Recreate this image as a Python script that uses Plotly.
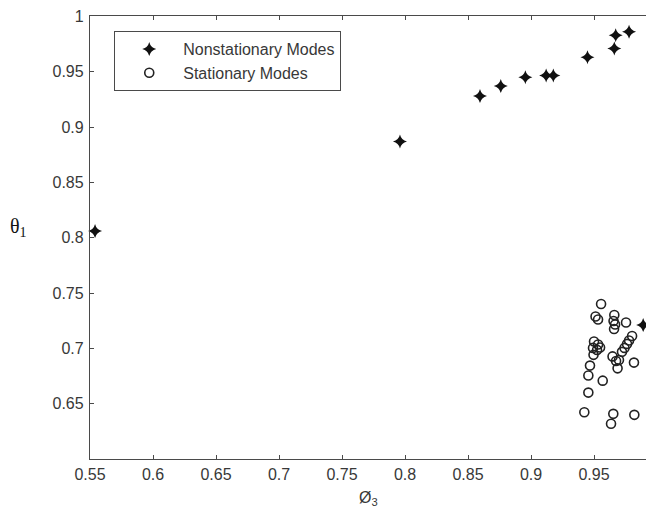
import plotly.graph_objects as go

# Nonstationary modes (star markers)
nonstat_x = [0.554, 0.796, 0.8595, 0.876, 0.8955, 0.912, 0.9177, 0.9448, 0.9661, 0.9672, 0.9778, 0.989]
nonstat_y = [0.806, 0.887, 0.928, 0.937, 0.945, 0.9465, 0.9465, 0.963, 0.971, 0.983, 0.986, 0.721]

# Stationary modes (open circles)
stat_x = [0.9556, 0.9512, 0.9532, 0.9661, 0.9655, 0.9667, 0.9659, 0.9754, 0.9802, 0.9778, 0.9762,
          0.9742, 0.9722, 0.95, 0.9532, 0.9492, 0.9524, 0.9548, 0.9496, 0.9647, 0.9675, 0.9698,
          0.9687, 0.9817, 0.9468, 0.9455, 0.9569, 0.9455, 0.9423, 0.9653, 0.9635, 0.982]
stat_y = [0.740, 0.7288, 0.7261, 0.7301, 0.7247, 0.7216, 0.7175, 0.7234, 0.7112, 0.7071, 0.704,
          0.7004, 0.6968, 0.7062, 0.7035, 0.7004, 0.6986, 0.7008, 0.6941, 0.6927, 0.6886, 0.6895,
          0.6819, 0.6871, 0.6844, 0.6754, 0.6708, 0.66, 0.6423, 0.6408, 0.6318, 0.6399]

x_ticks = [0.55, 0.6, 0.65, 0.7, 0.75, 0.8, 0.85, 0.9, 0.95]
x_ticklabels = ["0.55", "0.6", "0.65", "0.7", "0.75", "0.8", "0.85", "0.9", "0.95"]
y_ticks = [0.65, 0.7, 0.75, 0.8, 0.85, 0.9, 0.95, 1.0]
y_ticklabels = ["0.65", "0.7", "0.75", "0.8", "0.85", "0.9", "0.95", "1"]

legend_names = ["Nonstationary Modes", "Stationary Modes"]

AX = "#4a4a4a"
TXT = "#383838"
FONT = "Liberation Sans, Arial, sans-serif"

fig = go.Figure()
fig.add_trace(go.Scatter(
    x=nonstat_x, y=nonstat_y, mode="markers", name=legend_names[0],
    marker=dict(symbol="star-diamond", size=10, color="#111111", line=dict(width=0)),
    cliponaxis=False,
))
fig.add_trace(go.Scatter(
    x=stat_x, y=stat_y, mode="markers", name=legend_names[1],
    marker=dict(symbol="circle-open", size=9, color="#222222", line=dict(width=1.6, color="#222222")),
    cliponaxis=False,
))

fig.update_layout(
    width=646, height=499,
    margin=dict(l=82, r=0, t=8, b=48),
    paper_bgcolor="white", plot_bgcolor="white",
    font=dict(family=FONT, size=16, color=TXT),
    showlegend=True,
    legend=dict(
        x=0.043, y=0.966, xanchor="left", yanchor="top",
        bgcolor="white", bordercolor=AX, borderwidth=1,
        itemwidth=58,
        font=dict(family=FONT, size=16, color=TXT),
    ),
    xaxis=dict(
        range=[0.55, 0.9976], tickvals=x_ticks, ticktext=x_ticklabels,
        showgrid=False, zeroline=False,
        showline=True, linecolor=AX, linewidth=1.3, mirror="ticks",
        ticks="inside", ticklen=4, tickcolor=AX, tickwidth=1,
        ticklabelstandoff=1, ticklabeloverflow="allow",
    ),
    yaxis=dict(
        range=[0.6, 1.0003], tickvals=y_ticks, ticktext=y_ticklabels,
        showgrid=False, zeroline=False,
        showline=True, linecolor=AX, linewidth=1.3, mirror="ticks",
        ticks="inside", ticklen=4, tickcolor=AX, tickwidth=1,
        ticklabelstandoff=2, ticklabeloverflow="allow",
    ),
    annotations=[
        dict(text="θ<sub>1</sub>", xref="paper", yref="paper", x=-0.126, y=0.522,
             xanchor="center", yanchor="middle", showarrow=False,
             font=dict(family="Liberation Serif, Times New Roman, serif", size=20, color="#111111")),
        dict(text="Ø<sub>3</sub>", xref="paper", yref="paper", x=0.493, y=-0.09,
             xanchor="center", yanchor="middle", showarrow=False,
             font=dict(family=FONT, size=16, color=TXT)),
    ],
)

fig.write_html("out.html")
